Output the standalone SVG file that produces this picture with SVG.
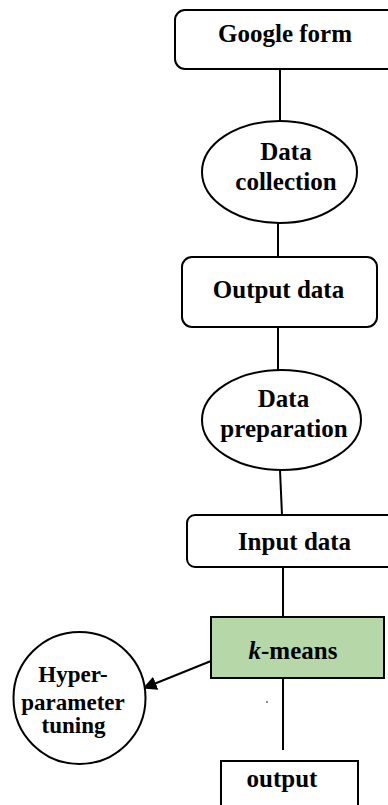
<svg xmlns="http://www.w3.org/2000/svg" width="388" height="805" viewBox="0 0 388 805">
<style>
.box{fill:#fff;stroke:#000;stroke-width:2}
.green{fill:#b6d7a8;stroke:#000;stroke-width:2}
.lbl{font-family:"Liberation Serif","Times New Roman",serif;font-weight:bold;font-size:25px;fill:#000;text-anchor:middle}
.sm{font-size:23px}
.conn{stroke:#000;stroke-width:2;fill:none}
</style>
<defs>
<marker id="ah" viewBox="0 0 10 10" refX="9" refY="5" markerWidth="7" markerHeight="7" markerUnits="strokeWidth" orient="auto">
<path d="M0,0 L10,5 L0,10 z" fill="#000"/>
</marker>
</defs>
<rect width="388" height="805" fill="#fff"/>
<g id="connectors">
<line class="conn" x1="280" y1="70" x2="280" y2="121"/>
<line class="conn" x1="278" y1="223" x2="278" y2="257"/>
<line class="conn" x1="278" y1="328" x2="278" y2="370"/>
<line class="conn" x1="280" y1="470" x2="282" y2="515"/>
<line class="conn" x1="283" y1="568" x2="283" y2="617"/>
<line class="conn" x1="283" y1="678" x2="283" y2="750"/>
<line class="conn" x1="211" y1="661" x2="144" y2="688" marker-end="url(#ah)"/>
<circle cx="267" cy="702" r="0.9" fill="#555"/>
</g>
<g id="google-form">
<rect class="box" x="175" y="10" width="225" height="59" rx="10"/>
<text class="lbl" x="285" y="42">Google form</text>
</g>
<g id="data-collection">
<ellipse class="box" cx="279.5" cy="172" rx="77.5" ry="51"/>
<text class="lbl" x="286" y="160">Data</text>
<text class="lbl" x="286" y="190">collection</text>
</g>
<g id="output-data">
<rect class="box" x="182" y="257" width="195" height="70" rx="10"/>
<text class="lbl" x="278.5" y="298">Output data</text>
</g>
<g id="data-preparation">
<ellipse class="box" cx="281.5" cy="420" rx="79.5" ry="50"/>
<text class="lbl" x="283.5" y="407">Data</text>
<text class="lbl" x="284" y="437">preparation</text>
</g>
<g id="input-data">
<rect class="box" x="187" y="515" width="215" height="52" rx="8"/>
<text class="lbl" x="294.5" y="550">Input data</text>
</g>
<g id="k-means">
<rect class="green" x="211" y="617" width="173" height="61"/>
<text class="lbl" x="293" y="659"><tspan font-style="italic">k</tspan>-means</text>
</g>
<g id="hyperparameter-tuning">
<circle class="box" cx="79.5" cy="698" r="66"/>
<text class="lbl sm" x="73" y="682">Hyper-</text>
<text class="lbl sm" x="73" y="710">parameter</text>
<text class="lbl sm" x="73.5" y="733">tuning</text>
</g>
<g id="output">
<rect class="box" x="221" y="761" width="137" height="60"/>
<text class="lbl" x="282" y="787">output</text>
</g>
</svg>
